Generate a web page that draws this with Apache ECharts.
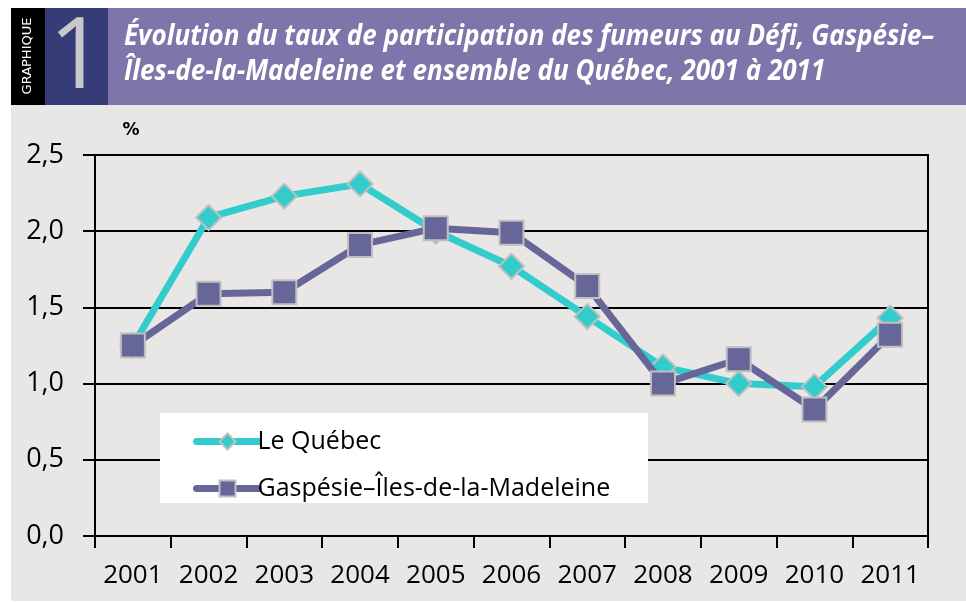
<!DOCTYPE html>
<html>
<head>
<meta charset="utf-8">
<script src="https://cdn.jsdelivr.net/npm/echarts@6/dist/echarts.min.js"></script>
<style>
html,body{margin:0;padding:0;background:#fff;}
#c{width:966px;height:603px;}
</style>
</head>
<body>
<div id="c"></div>
<script>
const years = ['2001','2002','2003','2004','2005','2006','2007','2008','2009','2010','2011'];
const quebec = [1.25, 2.09, 2.23, 2.31, 2.00, 1.77, 1.44, 1.11, 1.00, 0.98, 1.43];
const gaspesie = [1.25, 1.59, 1.60, 1.91, 2.02, 1.99, 1.64, 1.00, 1.16, 0.83, 1.32];
const seriesNames = ['Le Québec', 'Gaspésie–Îles-de-la-Madeleine'];
const titleLines = ['Évolution du taux de participation des fumeurs au Défi, Gaspésie–', 'Îles-de-la-Madeleine et ensemble du Québec, 2001 à 2011'];

const titleFont = 'italic bold 29px "Open Sans", sans-serif';
const ctx = document.createElement('canvas').getContext('2d');
ctx.font = titleFont;
const titleScale = 810 / ctx.measureText(titleLines[0]).width;

const chart = echarts.init(document.getElementById('c'));
const fontNum = '"Open Sans", sans-serif';
chart.setOption({
  animation: false,
  backgroundColor: '#ffffff',
  graphic: [
    { type: 'rect', shape: { x: 11, y: 105, width: 955, height: 496 }, style: { fill: '#e8e7e5' }, z: -10 },
    { type: 'rect', shape: { x: 11, y: 8, width: 34, height: 97 }, style: { fill: '#000000' }, z: -5 },
    { type: 'rect', shape: { x: 45, y: 8, width: 63, height: 97 }, style: { fill: '#363c78' }, z: -5 },
    { type: 'rect', shape: { x: 108, y: 8, width: 858, height: 97 }, style: { fill: '#7f75aa' }, z: -5 },
    { type: 'text', x: 28, y: 56, rotation: Math.PI / 2, style: { text: 'GRAPHIQUE', fill: '#ffffff', font: '13px "DejaVu Sans", sans-serif', align: 'center', verticalAlign: 'middle' } },
    { type: 'text', x: 77, y: 60, style: { text: '1', fill: '#c8c8cc', font: '98px "Open Sans", sans-serif', align: 'center', verticalAlign: 'middle' } },
    { type: 'text', x: 124, y: 37, scaleX: titleScale, style: { x: 0, y: 0, text: titleLines[0], fill: '#ffffff', font: titleFont, verticalAlign: 'middle' } },
    { type: 'text', x: 124, y: 72, scaleX: titleScale, style: { x: 0, y: 0, text: titleLines[1], fill: '#ffffff', font: titleFont, verticalAlign: 'middle' } },
    { type: 'text', x: 131, y: 131, style: { text: '%', fill: '#000000', font: 'bold 17px "DejaVu Sans", sans-serif', align: 'center', verticalAlign: 'middle' } },
    { type: 'rect', shape: { x: 160, y: 413, width: 488, height: 90 }, style: { fill: '#ffffff' }, z: 3 }
  ],
  grid: { left: 95, right: 38, top: 155, bottom: 67, show: true, borderColor: '#000', borderWidth: 2, backgroundColor: 'transparent' },
  legend: {
    data: seriesNames,
    orient: 'vertical',
    left: 188, top: 424,
    itemWidth: 62, itemHeight: 20, itemGap: 22,
    lineStyle: { width: 7, cap: 'round' },
    textStyle: { fontSize: 25, color: '#000', fontFamily: fontNum, padding: [0,0,0,-6] },
    z: 5
  },
  xAxis: {
    type: 'category', data: years, boundaryGap: true,
    axisLine: { lineStyle: { color: '#000', width: 2 } },
    axisTick: { show: true, interval: 0, length: 12, lineStyle: { color: '#000', width: 2 } },
    axisLabel: { interval: 0, hideOverlap: false, fontSize: 26, color: '#000', fontFamily: fontNum, margin: 27 }
  },
  yAxis: {
    type: 'value', min: 0, max: 2.5, interval: 0.5,
    axisLine: { show: true, lineStyle: { color: '#000', width: 2 } },
    axisTick: { show: true, length: 12, lineStyle: { color: '#000', width: 2 } },
    splitLine: { lineStyle: { color: '#000', width: 2 } },
    axisLabel: { fontSize: 27, color: '#000', fontFamily: fontNum, margin: 31, formatter: v => v.toFixed(1).replace('.', ',') }
  },
  series: [
    { name: seriesNames[0], type: 'line', data: quebec, symbol: 'diamond', symbolSize: 25,
      lineStyle: { color: '#33cccc', width: 7 },
      itemStyle: { color: '#33cccc', borderColor: '#c0c0c0', borderWidth: 2 }, z: 2 },
    { name: seriesNames[1], type: 'line', data: gaspesie, symbol: 'rect', symbolSize: 24,
      lineStyle: { color: '#666699', width: 7 },
      itemStyle: { color: '#666699', borderColor: '#c0c0c0', borderWidth: 2 }, z: 3 }
  ]
});
</script>
</body>
</html>
